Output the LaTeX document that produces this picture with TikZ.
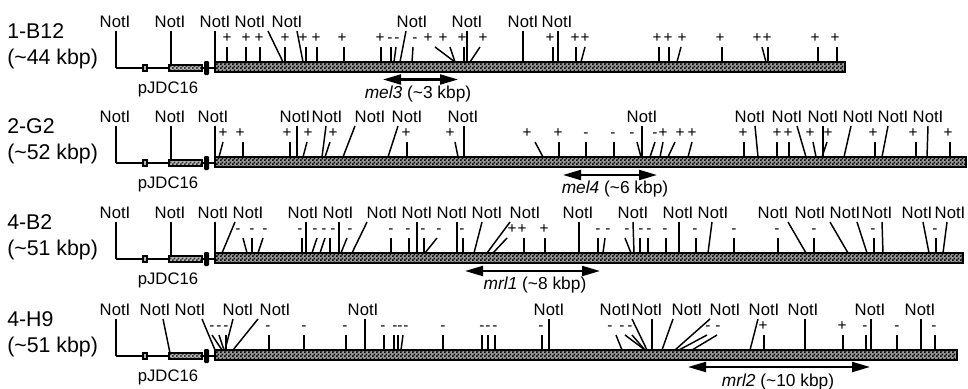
\documentclass[tikz,border=0pt]{standalone}
\usepackage{fontspec}
\setmainfont{Liberation Sans}
\usetikzlibrary{arrows.meta,patterns.meta}
\tikzdeclarepattern{
  name=finecheck,
  type=uncolored,
  bounding box={(0pt,0pt) and (3pt,3pt)},
  tile size={(3pt,3pt)},
  code={
    \pgfpathrectangle{\pgfpointorigin}{\pgfqpoint{1.5pt}{1.5pt}}
    \pgfpathrectangle{\pgfqpoint{1.5pt}{1.5pt}}{\pgfqpoint{1.5pt}{1.5pt}}
    \pgfusepath{fill}
  }
}
\newcommand\mybase[2]{%
  \draw[thinline] (116,6) -- (215,6);
  \draw[smallbox] (143,3) rectangle (147,9);
  \draw[vecbox] (169,3) rectangle (202,9);
  \fill[rounded corners=0.8pt] (204,-1) rectangle (209,13);
  \draw[insert] (215,0) rectangle (#2,10);
  \node[veclab] (#1vec) at (168,31) {pJDC16};
}
\newcommand\mynotis[2]{%
  \foreach \lx/\tx/\bx/\by in {#2} {
    \node[notilab] (#1n\lx) at (\lx,-35) {NotI};
    \draw[site] (\tx,-31) -- (\bx,\by);
  }
}
\newcommand\mymarks[2]{%
  \foreach \sg/\mx/\tx/\bx in {#2} {
    \node[marklab] (#1m\mx) at (\mx,-19.5) {\sg};
    \draw[site] (\tx,-15) -- (\bx,0);
  }
}
\begin{document}
\begin{tikzpicture}[x=0.75pt,y=-0.75pt,
  thinline/.style={line width=1.1pt},
  smallbox/.style={draw, line width=0.8pt, fill=gray!60},
  vecbox/.style={draw, line width=1pt, preaction={fill=gray!55}, pattern=finecheck, pattern color=black!80},
  insert/.style={draw, line width=1.2pt, preaction={fill=gray!80}, pattern=finecheck},
  site/.style={line width=1.1pt},
  notilab/.style={anchor=base, font=\fontsize{12.5}{14}\selectfont, inner sep=0pt},
  marklab/.style={anchor=base, font=\fontsize{11.5}{13}\selectfont, inner sep=0pt},
  rowlab/.style={anchor=base west, font=\fontsize{16}{18}\selectfont, inner sep=0pt},
  veclab/.style={anchor=base, font=\fontsize{12.5}{14}\selectfont, inner sep=0pt},
  arrlab/.style={anchor=base, font=\fontsize{13}{15}\selectfont, inner sep=0pt},
  span/.style={{Triangle[length=13.5pt,width=7.5pt]}-{Triangle[length=13.5pt,width=7.5pt]}, line width=1.6pt}]
\useasboundingbox (0,0) rectangle (968,389);

% ---------------- Row 1
\begin{scope}[shift={(0,62)}]
\node[rowlab] (r1a) at (7,-24) {1-B12};
\node[rowlab] (r1b) at (7,2) {(\textasciitilde 44 kbp)};
\mybase{r1}{845}
\mynotis{r1}{115/116/116/6, 170/171/171/3, 215/215/215/0, 250/268/283/0, 287/297/303/0,
  412/406/400/0, 467/467/467/0, 523/523/523/0, 557/558/558/0}
\mymarks{r1}{+/227/227/227, +/246/246/246, +/259/260/260, +/285/285/285, +/303/306/306,
  +/316/317/317, +/342/344/344, +/380/381/381, -/390/391/391, -/397/396/394,
  -/415/413/412, +/428/435/455, +/443/450/455, +/462/464/464, +/483/480/470,
  +/550/553/553, +/575/576/576, +/585/585/581, +/657/659/659, +/668/669/669,
  +/682/681/677, +/720/722/722, +/757/762/766, +/767/768/768, +/815/818/818,
  +/835/837/837}
\coordinate (a1l) at (383,17.5);
\coordinate (a1r) at (458,17.5);
\draw[span] (a1l) -- (a1r);
\node[arrlab] (a1t) at (418,36) {\textit{mel3} (\textasciitilde 3 kbp)};
\end{scope}

% ---------------- Row 2
\begin{scope}[shift={(0,157)}]
\node[rowlab] (r2a) at (7,-24) {2-G2};
\node[rowlab] (r2b) at (7,2) {(\textasciitilde 52 kbp)};
\mybase{r2}{966}
\mynotis{r2}{115/116/116/6, 170/171/171/3, 213/215/215/0, 295/297/297/0, 327/326/322/0,
  370/355/343/0, 407/398/388/0, 463/464/464/0, 642/642/642/0, 750/755/758/0,
  787/797/806/0, 823/823/823/0, 858/851/844/0, 893/888/882/0, 928/928/927/0}
\mymarks{r2}{+/223/223/219, +/240/243/243, +/287/290/290, +/308/307/303, +/333/330/325,
  +/406/407/407, +/450/455/458, +/527/535/543, +/558/559/559, -/586/586/586,
  -/613/614/614, -/632/637/641, -/655/655/650, +/663/663/660, +/680/675/668,
  +/692/692/688, +/743/744/744, +/777/777/777, +/788/789/789, +/810/813/816,
  +/828/827/822, +/873/875/875, +/913/916/916, +/948/950/950}
\coordinate (a2l) at (563,18);
\coordinate (a2r) at (657,18);
\draw[span] (a2l) -- (a2r);
\node[arrlab] (a2t) at (615,36.5) {\textit{mel4} (\textasciitilde 6 kbp)};
\end{scope}

% ---------------- Row 3
\begin{scope}[shift={(0,253)}]
\node[rowlab] (r3a) at (7,-24) {4-B2};
\node[rowlab] (r3b) at (7,2) {(\textasciitilde 51 kbp)};
\mybase{r3}{963}
\mynotis{r3}{115/116/116/6, 170/171/171/3, 213/215/215/0, 248/235/222/0, 303/306/306/0,
  338/339/339/0, 382/367/352/0, 417/417/417/0, 452/457/457/0, 487/482/474/0,
  525/510/487/0, 578/579/579/0, 633/633/634/0, 678/679/679/0, 713/712/708/0,
  773/788/806/0, 810/830/848/0, 845/857/867/0, 877/882/883/0, 917/923/929/0,
  950/947/943/0}
\mymarks{r3}{-/238/243/247, -/252/252/252, -/265/263/258, -/300/302/302, -/315/317/312,
  -/324/325/320, -/333/330/330, -/350/347/341, -/391/391/391, -/408/409/409,
  -/423/424/424, -/439/437/425, -/462/463/463, +/512/507/493, +/522/524/524,
  +/544/545/545, -/598/598/598, -/608/605/603, -/627/625/631, -/641/640/640,
  -/649/648/648, -/665/666/666, -/695/696/696, -/734/734/734, -/777/778/778,
  -/814/814/814, -/873/874/874, -/935/936/936}
\coordinate (a3l) at (465,18);
\coordinate (a3r) at (600,18);
\draw[span] (a3l) -- (a3r);
\node[arrlab] (a3t) at (535,36.5) {\textit{mrl1} (\textasciitilde 8 kbp)};
\end{scope}

% ---------------- Row 4
\begin{scope}[shift={(0,350)}]
\node[rowlab] (r4a) at (7,-24) {4-H9};
\node[rowlab] (r4b) at (7,2) {(\textasciitilde 51 kbp)};
\mybase{r4}{957}
\mynotis{r4}{115/116/116/6, 155/163/170/3, 190/202/215/0, 238/233/225/0, 275/258/233/0,
  363/365/365/0, 549/549/549/0, 615/632/647/0, 647/652/652/0, 687/673/662/0,
  725/710/675/0, 764/758/750/0, 803/805/805/0, 870/871/871/0, 920/921/921/0}
\mymarks{r4}{-/212/212/222, -/219/219/224, -/226/226/226, -/268/269/269, -/304/304/304,
  -/345/346/346, -/383/384/384, -/395/394/394, -/400/398/398, -/406/403/401,
  -/443/443/443, -/482/482/482, -/488/488/488, -/495/495/495, -/541/542/542,
  -/610/616/622, -/622/625/645, -/630/632/645, -/708/707/679, -/718/717/692,
  +/763/764/764, +/842/843/843, -/865/866/866, -/897/897/897, -/934/935/935}
\coordinate (a4l) at (688,17);
\coordinate (a4r) at (870,17);
\draw[span] (a4l) -- (a4r);
\node[arrlab] (a4t) at (778,36) {\textit{mrl2} (\textasciitilde 10 kbp)};
\end{scope}
\end{tikzpicture}
\end{document}
